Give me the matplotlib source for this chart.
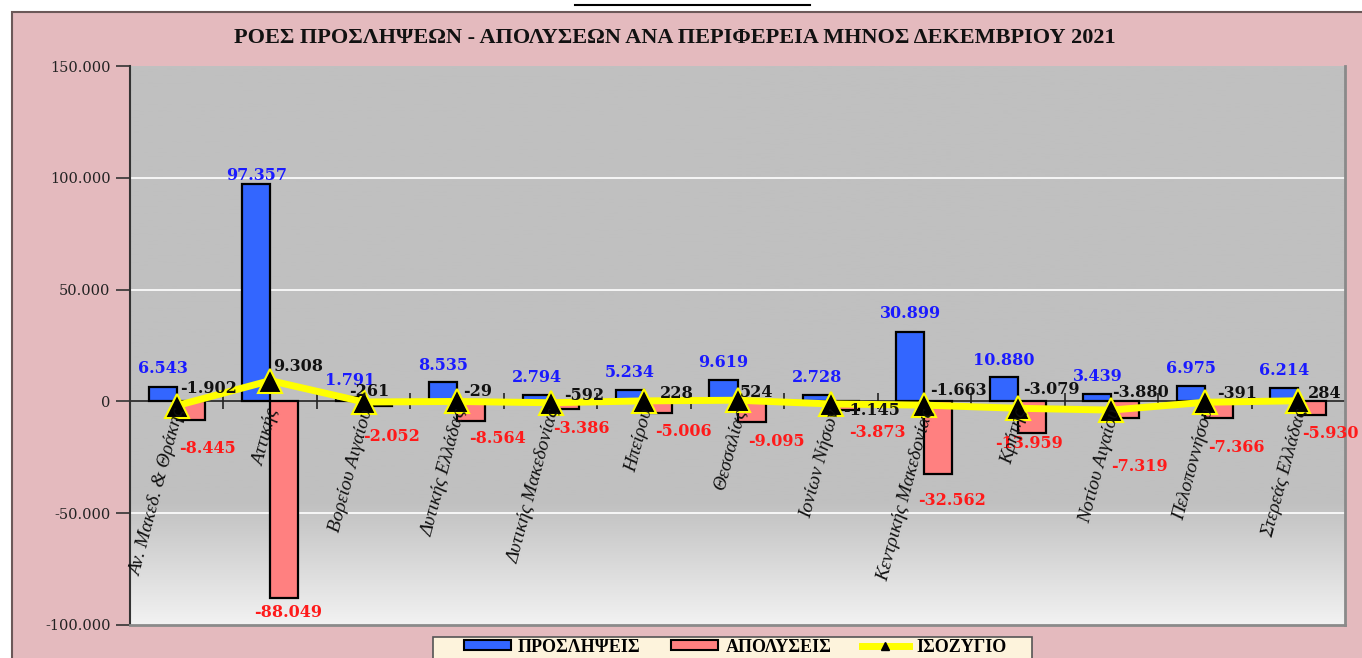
import numpy as np
import matplotlib
matplotlib.use("Agg")
import matplotlib.pyplot as plt
from matplotlib.patches import Patch, Rectangle
from matplotlib.lines import Line2D
from matplotlib.ticker import FuncFormatter

# ── data ────────────────────────────────────────────────────────────────────
regions = ["Αν. Μακεδ. & Θράκης", "Αττικής", "Βορείου Αιγαίου", "Δυτικής Ελλάδας",
           "Δυτικής Μακεδονίας", "Ηπείρου", "Θεσσαλίας", "Ιονίων Νήσων",
           "Κεντρικής Μακεδονίας", "Κρήτης", "Νοτίου Αιγαίου", "Πελοποννήσου",
           "Στερεάς Ελλάδας"]
hires   = [6543, 97357, 1791, 8535, 2794, 5234, 9619, 2728, 30899, 10880, 3439, 6975, 6214]
layoffs = [-8445, -88049, -2052, -8564, -3386, -5006, -9095, -3873, -32562, -13959, -7319, -7366, -5930]
balance = [-1902, 9308, -261, -29, -592, 228, 524, -1145, -1663, -3079, -3880, -391, 284]

TITLE = "ΡΟΕΣ ΠΡΟΣΛΗΨΕΩΝ - ΑΠΟΛΥΣΕΩΝ ΑΝΑ ΠΕΡΙΦΕΡΕΙΑ ΜΗΝΟΣ ΔΕΚΕΜΒΡΙΟΥ 2021"
LEGEND = ["ΠΡΟΣΛΗΨΕΙΣ", "ΑΠΟΛΥΣΕΙΣ", "ΙΣΟΖΥΓΙΟ"]

# label nudges in screen pixels (dx right, dy down), as placed in the original
blue_dy = [-18, -8, -17, -17, -18, -17, -17, -18, -19, -17, -17, -17, -17]
red_dx  = [17, 4, 14, 26, 17, 25, 25, 32, 14, -3, 14, 18, 18]
red_dy  = [28, 14, 31, 18, 20, 19, 20, 22, 26, 11, 49, 30, 19]
bal_dx  = [3, 3, -15, 6, 14, 16, 2, 12, 6, 5, 1, 12, 10]
bal_dy  = [-17, -14, -10, -10, -7, -7, -8, 7, -15, -19, -18, -9, -7]

BLUE  = "#3366ff"
RED   = "#ff8080"
YEL   = "#ffff00"
PINK  = "#e4babe"

W, H = 1362, 658


def fx(px):
    return px / W


def fy(py):
    return 1 - py / H


# ── figure ──────────────────────────────────────────────────────────────────
fig = plt.figure(figsize=(W / 100, H / 100), dpi=100, facecolor="white")
fig.patches.append(Rectangle((fx(12), -0.1), 1.1, fy(12) + 0.1,
                             transform=fig.transFigure, facecolor=PINK,
                             edgecolor="#6b5858", lw=1.5, zorder=-10))
fig.add_artist(Line2D([fx(575), fx(810)], [fy(5)] * 2,
                      transform=fig.transFigure, color="black", lw=1.5))

ax = fig.add_axes([fx(130), fy(625), fx(1215), 559 / H])
n = len(regions)
x = np.arange(n) + 0.5
ax.set_xlim(0, n)
ax.set_ylim(-100000, 150000)

# plot-area gradient (gray, fading to white at the bottom)
yy = np.linspace(150000, -100000, 400)
t = np.clip((-45000 - yy) / 55000, 0, 1)
shade = (0xc0 + t * (0xf2 - 0xc0)) / 255
grad = np.repeat(shade[:, None], 3, axis=1)[:, None, :]
ax.imshow(grad, extent=[0, n, -100000, 150000], aspect="auto", zorder=0)

for y in (100000, 50000, -50000):
    ax.axhline(y, color="white", lw=1.2, zorder=1)
ax.axhline(0, color="#222222", lw=1.2, zorder=2)
ax.plot(np.arange(1, n), np.zeros(n - 1), ls="none", marker="|", ms=12,
        mew=1.2, color="#222222", zorder=2)

w = 0.3
ax.bar(x - w / 2, hires, w, color=BLUE, edgecolor="black", lw=1.6, zorder=3)
ax.bar(x + w / 2, layoffs, w, color=RED, edgecolor="black", lw=1.6, zorder=3)
ax.plot(x, balance, color=YEL, lw=5, marker="^", ms=17, mfc="black",
        mec=YEL, mew=1.5, zorder=4)

lab = dict(family="DejaVu Serif", fontweight="bold", fontsize=11.5,
           textcoords="offset pixels", va="center", zorder=5)
for i in range(n):
    ax.annotate(f"{hires[i]:,}".replace(",", "."), (x[i] - w / 2, hires[i]),
                xytext=(0, -blue_dy[i]), ha="center", color="#1a1aff", **lab)
    ax.annotate(f"{layoffs[i]:,}".replace(",", "."), (x[i] + w / 2, layoffs[i]),
                xytext=(red_dx[i], -red_dy[i]), ha="center", color="#ff1a1a", **lab)
    ax.annotate(f"{balance[i]:,}".replace(",", "."), (x[i], balance[i]),
                xytext=(bal_dx[i], -bal_dy[i]), ha="left", color="#111111", **lab)
    ax.annotate(regions[i], (x[i], 0), xytext=(4, -8), textcoords="offset pixels",
                rotation=75, rotation_mode="anchor", ha="right", va="center",
                family="Liberation Serif", style="italic", fontsize=14,
                color="#111111", zorder=5)

ax.set_xticks([])
ax.set_yticks([-100000, -50000, 0, 50000, 100000, 150000])
ax.yaxis.set_major_formatter(FuncFormatter(lambda v, p: f"{int(v):,}".replace(",", ".")))
ax.tick_params(axis="y", direction="out", length=10, width=1.2, color="#333333",
               labelcolor="#222222", pad=4)
for lbl in ax.get_yticklabels():
    lbl.set_family("DejaVu Serif")
    lbl.set_fontsize(10.5)
ax.spines["top"].set_visible(False)
ax.spines["left"].set_color("#333333")
ax.spines["left"].set_linewidth(1.5)
for s in ("right", "bottom"):
    ax.spines[s].set_color("#8a8a8a")
    ax.spines[s].set_linewidth(2)

fig.text(fx(675), fy(38), TITLE, ha="center", va="center",
         family="Liberation Serif", fontweight="bold", fontsize=16, color="#111111")

# legend box (runs off the bottom edge, as in the original)
fig.patches.append(Rectangle((fx(433), -0.05), fx(1032 - 433), fy(637) + 0.05,
                             transform=fig.transFigure, facecolor="#fdf3dc",
                             edgecolor="#555555", lw=1.2, zorder=-5))
handles = [Patch(facecolor=BLUE, edgecolor="black", lw=1.5),
           Patch(facecolor=RED, edgecolor="black", lw=1.5),
           Line2D([], [], color=YEL, lw=5, marker="^", ms=6, mfc="black", mec="black")]
leg = fig.legend(handles, LEGEND, loc="center", ncol=3,
                 bbox_to_anchor=(fx(735), fy(647)), bbox_transform=fig.transFigure,
                 prop=dict(family="Liberation Serif", weight="bold", size=13),
                 frameon=False, handlelength=2.6, handleheight=0.45,
                 columnspacing=1.7, handletextpad=0.4, borderpad=0)

fig.savefig("out.png", dpi=100, facecolor=fig.get_facecolor())
